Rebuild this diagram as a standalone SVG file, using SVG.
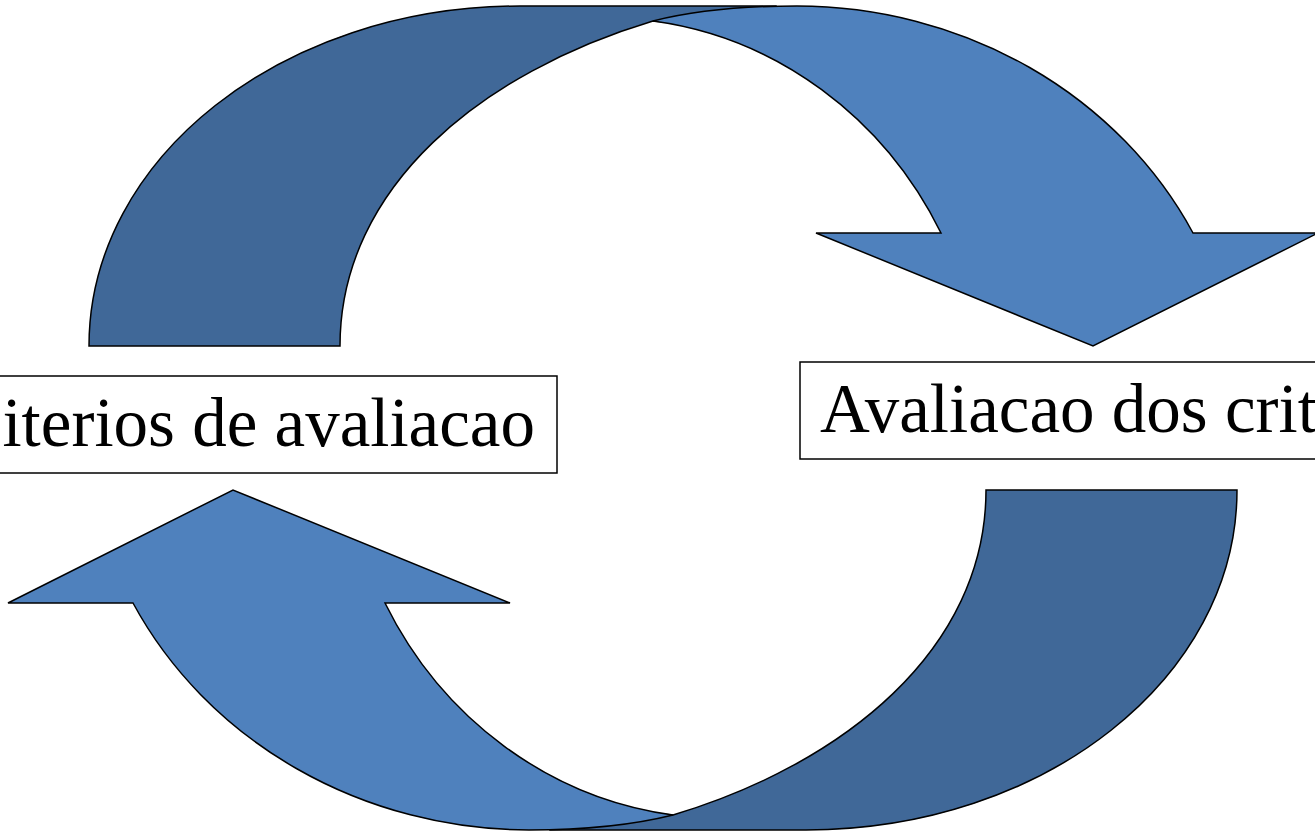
<svg xmlns="http://www.w3.org/2000/svg" xmlns:xlink="http://www.w3.org/1999/xlink" width="1315" height="832" viewBox="0 0 1315 832">
  <style>
    .dark { fill: #406898; stroke: #000; stroke-width: 1.5; stroke-linejoin: miter; }
    .light { fill: #4F81BD; stroke: #000; stroke-width: 1.5; stroke-linejoin: miter; }
    .box { fill: #fff; stroke: #000; stroke-width: 1.5; }
    .label { font-family: "Liberation Serif", "Times New Roman", serif; font-size: 69px; fill: #000; }
  </style>
  <defs>
    <path id="darkBand" d="M89,346 C89,158 282,6 520,6 L775,6 L745,28 L653,21 C483,72 340,186 340,346 Z"/>
    <path id="lightArrow" d="M653,21 C685,13 730,6 797,6 A444,412 0 0 1 1193,233 L1318,233 L1093,346 L816,233 L941,233 A379,400 0 0 0 653,21 Z"/>
  </defs>
  <rect width="1315" height="832" fill="#fff"/>
  <g id="connectors">
    <g id="arrow-top">
      <use xlink:href="#darkBand" class="dark"/>
      <use xlink:href="#lightArrow" class="light"/>
    </g>
    <g id="arrow-bottom" transform="rotate(180 663 418)">
      <use xlink:href="#darkBand" class="dark"/>
      <use xlink:href="#lightArrow" class="light"/>
    </g>
  </g>
  <g id="node-criterios">
    <rect class="box" x="-10" y="376" width="567" height="97"/>
    <text class="label" x="535" y="446" text-anchor="end">iterios de avaliacao</text>
  </g>
  <g id="node-avaliacao">
    <rect class="box" x="800" y="362" width="530" height="97"/>
    <text class="label" x="820" y="432">Avaliacao dos crit</text>
  </g>
</svg>
